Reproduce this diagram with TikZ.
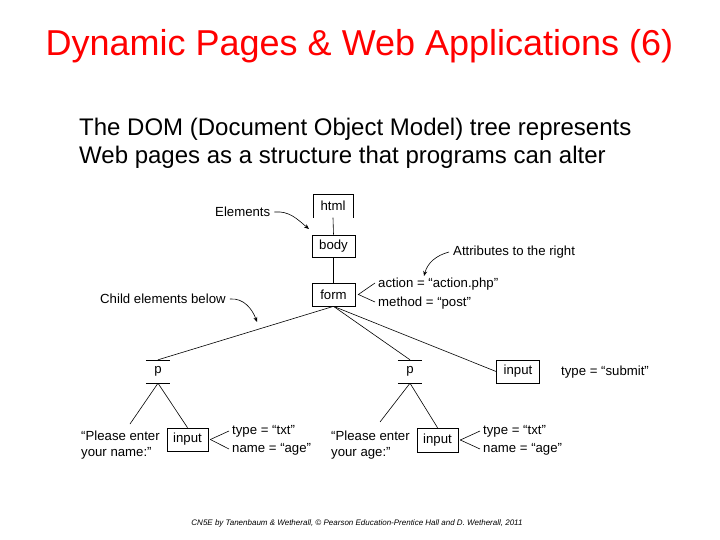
\documentclass[tikz,border=0pt]{standalone}
\usepackage{fontspec}
\setmainfont{Liberation Sans}
\usetikzlibrary{arrows.meta}
\begin{document}
\begin{tikzpicture}[x=1pt,y=-1pt,
  lbl/.style={font=\fontsize{13.2}{16}\selectfont, inner sep=0pt},
  elbox/.style={draw, line width=0.7pt, minimum height=23pt, inner sep=0pt, font=\fontsize{13.2}{14}\selectfont},
  bare/.style={minimum height=23pt, inner sep=0pt, font=\fontsize{13.2}{14}\selectfont},
  edge/.style={line width=0.6pt},
  note/.style={line width=0.6pt, -{Stealth[length=5pt,width=4pt]}}]
\useasboundingbox (0,0) rectangle (720,540);
\fill[white] (0,0) rectangle (720,540);
% title and text
\node[text=red, font=\fontsize{36}{40}\selectfont, inner sep=0pt] (title) at (359.5,46) {Dynamic Pages \& Web Applications (6)};
\node[font=\fontsize{24}{28}\selectfont, align=left, anchor=west, inner sep=0pt] (intro) at (79,143) {The DOM (Document Object Model) tree represents\\Web pages as a structure that programs can alter};
% element boxes
\node[bare, minimum width=40pt] (html) at (333,206) {html};
\draw[edge] (html.south west) -- (html.north west) -- (html.north east) -- (html.south east);
\node[elbox, minimum width=43pt, minimum height=22pt] (body) at (333.5,246) {body};
\node[elbox, minimum width=43pt] (form) at (333.5,294.5) {form};
\node[bare, minimum width=24pt] (p1) at (158,371.5) {p};
\draw[edge] (p1.north west) -- (p1.north east) (p1.south west) -- (p1.south east);
\node[bare, minimum width=24pt] (p2) at (410,371.5) {p};
\draw[edge] (p2.north west) -- (p2.north east) (p2.south west) -- (p2.south east);
\node[elbox, minimum width=43pt] (in3) at (518,371.5) {input};
\node[elbox, minimum width=41pt] (in1) at (187.5,439.5) {input};
\node[elbox, minimum width=41pt, minimum height=24pt] (in2) at (437.5,440) {input};
% texts
\node[lbl, anchor=west] (act) at (378,284) {action = “action.php”};
\node[lbl, anchor=west] (meth) at (378,303) {method = “post”};
\node[lbl, anchor=west] (sub) at (561,372) {type = “submit”};
\node[lbl, anchor=west, align=left] (pl1) at (81,445) {“Please enter\\your name:”};
\node[lbl, anchor=west, align=left] (pl2) at (331,445) {“Please enter\\your age:”};
\node[lbl, anchor=west] (t1) at (232,431) {type = “txt”};
\node[lbl, anchor=west] (n1) at (232,449) {name = “age”};
\node[lbl, anchor=west] (t2) at (483,431) {type = “txt”};
\node[lbl, anchor=west] (n2) at (483,449) {name = “age”};
\node[lbl, anchor=west] (elem) at (215,212) {Elements};
\node[lbl, anchor=west] (attr) at (453,252) {Attributes to the right};
\node[lbl, anchor=west] (child) at (100,299) {Child elements below};
% tree edges
\draw[edge] (html.south) -- (body.north);
\draw[edge] (body.south) -- (form.north);
\draw[edge] (form.south) -- (p1.north);
\draw[edge] (form.south) -- (p2.north);
\draw[edge] (form.south) -- (in3.west);
\coordinate (pl1top) at (130,424);
\coordinate (pl2top) at (380,422);
\draw[edge] (p1.south) -- (pl1top);
\draw[edge] (p1.south) -- (in1.north);
\draw[edge] (p2.south) -- (pl2top);
\draw[edge] (p2.south) -- (in2.north);
% attribute ticks
\draw[edge] ([xshift=-3pt,yshift=1pt]act.west) -- ([xshift=3pt]form.east) -- ([xshift=-3pt,yshift=1pt]meth.west);
\draw[edge] ([xshift=2pt]in1.east) -- ([xshift=-3pt]t1.west);
\draw[edge] ([xshift=2pt]in1.east) -- ([xshift=-3pt]n1.west);
\draw[edge] ([xshift=2pt]in2.east) -- ([xshift=-3pt]t2.west);
\draw[edge] ([xshift=2pt]in2.east) -- ([xshift=-3pt]n2.west);
% notes
\draw[note] ([xshift=4pt]elem.east) to[out=5,in=140] (309,229);
\draw[note] ([xshift=-4pt]attr.west) to[out=195,in=75] (424,276);
\draw[note] ([xshift=4pt]child.east) to[out=5,in=110] (257,322);
% footer
\node[font=\itshape\fontsize{8}{9}\selectfont, inner sep=0pt] (foot) at (357,523) {CN5E by Tanenbaum \& Wetherall, © Pearson Education-Prentice Hall and D. Wetherall, 2011};
\end{tikzpicture}
\end{document}
